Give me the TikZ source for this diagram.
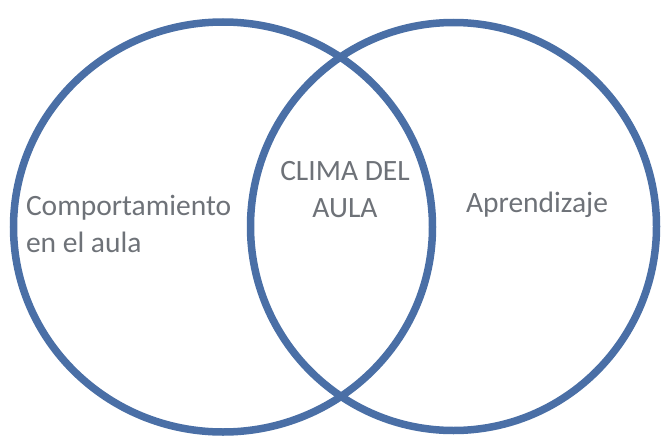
\documentclass[tikz,border=0pt]{standalone}
\usepackage{fontspec}
\setmainfont{Carlito}
\definecolor{AzulClima}{HTML}{4A6FA6}
\definecolor{GrisTexto}{HTML}{6E7278}
\usepackage{tikz}
\usetikzlibrary{positioning}
\begin{document}
\begin{tikzpicture}
	[x=1pt, y=-1pt,
	every node/.style = {inner sep=0pt, outer sep=0pt, text=GrisTexto,
		font=\fontsize{29.5}{37}\selectfont},
	conjunto/.style={draw=AzulClima, line width=7.5pt}]
	\useasboundingbox (0,0) rectangle (661,439);
	% les deux ensembles
	\draw[conjunto] (223,227) ellipse [x radius=209.5, y radius=205];
	\draw[conjunto] (453.5,226.5) ellipse [x radius=203, y radius=204];
	% textes
	\node[anchor=base west, align=left] (comp) at (26,252) {Comportamiento\\en el aula};
	\node[anchor=base, align=center] (clima) at (345,217) {CLIMA DEL\\AULA};
	\node[anchor=base] (apre) at (537,212) {Aprendizaje};
\end{tikzpicture}
\end{document}
